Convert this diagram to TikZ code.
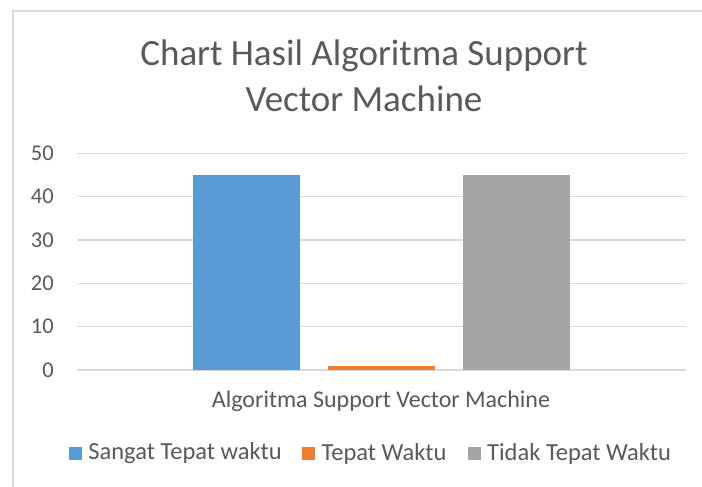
\documentclass[tikz,border=0pt]{standalone}
\usepackage{fontspec}
\setmainfont{Carlito}
\usetikzlibrary{positioning}
\definecolor{barblue}{RGB}{91,155,213}
\definecolor{barorange}{RGB}{237,125,49}
\definecolor{bargray}{RGB}{165,165,165}
\definecolor{gridgray}{RGB}{217,217,217}
\definecolor{textgray}{RGB}{89,89,89}
\tikzset{
  frame/.style     = {draw=gridgray, line width=1.2pt},
  gridline/.style  = {draw=gridgray, line width=1.3pt},
  ticklabel/.style = {text=textgray, font=\fontsize{22.5}{26}\selectfont,
                      anchor=east, inner sep=0pt},
  legendbox/.style = {minimum size=13pt, inner sep=0pt},
  legendtext/.style= {text=textgray, font=\fontsize{24.5}{28}\selectfont, inner sep=0pt},
}

\begin{document}
\begin{tikzpicture}[x=1pt, y=-1pt]
  \useasboundingbox (0,0) rectangle (702,487);
  \draw[frame] (13,487) -- (13,11) -- (702,11);

  % title
  \node[text=textgray, align=center, font=\fontsize{37}{46}\selectfont] (title)
    at (364,76) {Chart Hasil Algoritma Support\\Vector Machine};

  % grid and value axis
  \foreach \v in {0,10,...,50} {
    \draw[gridline] (77,{370-4.3333*\v}) -- (686,{370-4.3333*\v});
    \node[ticklabel] (tick\v) at (54,{370-4.3333*\v}) {\v};
  }

  % bars
  \fill[barblue]   (193,370) rectangle (300,{370-4.3333*45});
  \fill[barorange] (328,370) rectangle (435,{370-4.3333*1});
  \fill[bargray]   (463,370) rectangle (570,{370-4.3333*45});

  \node[text=textgray, font=\fontsize{24}{28}\selectfont] (cat) at (381,401)
    {Algoritma Support Vector Machine};

  % legend
  \node[legendbox, fill=barblue] (lgA) at (75.5,453.5) {};
  \node[legendtext, right=6pt of lgA] (ltA) {Sangat Tepat waktu};
  \node[legendbox, fill=barorange, right=20pt of ltA] (lgB) {};
  \node[legendtext, right=6pt of lgB] (ltB) {Tepat Waktu};
  \node[legendbox, fill=bargray, right=21pt of ltB] (lgC) {};
  \node[legendtext, right=6pt of lgC] (ltC) {Tidak Tepat Waktu};
\end{tikzpicture}
\end{document}
